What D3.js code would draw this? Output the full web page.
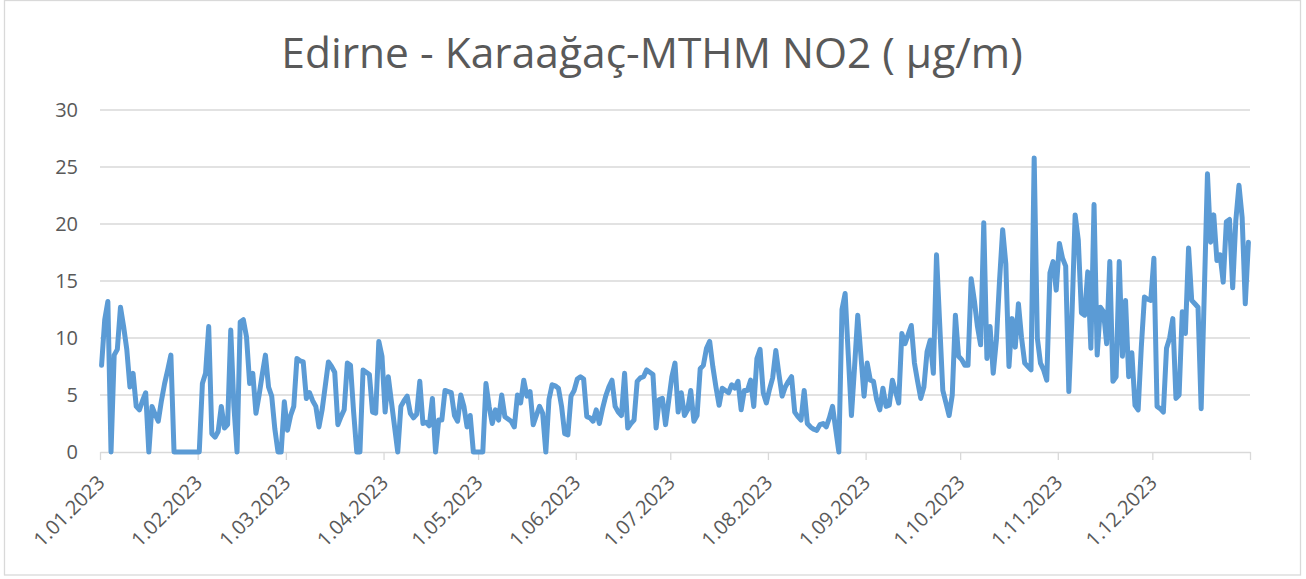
<!DOCTYPE html>
<html>
<head>
<meta charset="utf-8">
<script src="https://d3js.org/d3.v7.min.js"></script>
<style>
    body { margin: 0; background: #fff; }
    text { font-family: "Open Sans", "Liberation Sans", sans-serif; }
</style>
</head>
<body>
<div id="chart"></div>
<script>
// daily NO2 values, one array per month
var jan = [7.6, 11.6, 13.2, 0, 8.5, 9.0, 12.7, 11.0, 9.0, 5.7, 6.9, 4.0, 3.7, 4.5, 5.2, 0, 4.0, 3.3, 2.7, 4.5,
    6.0, 7.2, 8.5, 0, 0, 0, 0, 0, 0, 0, 0];
var feb = [0, 6.0, 6.9, 11.0, 1.6, 1.3, 1.8, 4.0, 2.1, 2.4, 10.7, 4.0, 0, 11.4, 11.6, 10.1, 6.0, 6.9, 3.4, 5.0,
    6.8, 8.5, 5.7, 4.9, 2.0, 0, 0, 4.4];
var mar = [1.9, 3.2, 4.0, 8.2, 8.0, 7.9, 4.7, 5.2, 4.5, 4.0, 2.2, 3.7, 5.8, 7.9, 7.5, 7.0, 2.4, 3.1, 3.7, 7.8,
    7.6, 3.5, 0, 0, 7.2, 7.0, 6.8, 3.5, 3.4, 9.7, 8.4];
var apr = [3.5, 6.6, 4.4, 2.2, 0, 4.0, 4.5, 4.9, 3.4, 3.0, 3.3, 6.2, 2.5, 2.6, 2.3, 4.7, 0, 2.8, 2.8, 5.4,
    5.3, 5.2, 3.2, 2.7, 5.0, 4.0, 2.2, 3.2, 0, 0];
var may = [0, 0, 6.0, 4.0, 2.5, 3.7, 2.8, 5.0, 3.1, 2.9, 2.7, 2.2, 5.0, 4.3, 6.3, 4.9, 5.3, 2.4, 3.2, 4.0,
    3.4, 0, 4.6, 5.9, 5.8, 5.6, 4.0, 1.6, 1.5, 4.9, 5.4];
var jun = [6.4, 6.6, 6.4, 3.1, 3.0, 2.7, 3.7, 2.5, 3.8, 4.9, 5.7, 6.3, 4.0, 3.5, 3.2, 6.9, 2.1, 2.5, 2.8, 6.2,
    6.5, 6.6, 7.2, 7.0, 6.8, 2.1, 4.6, 4.7, 2.4, 4.5];
var jul = [6.6, 7.8, 3.5, 5.2, 3.2, 3.7, 5.4, 2.7, 3.2, 7.3, 7.6, 9.1, 9.7, 7.5, 5.7, 4.1, 5.6, 5.4, 5.2, 5.9,
    5.6, 6.2, 3.7, 5.4, 5.4, 6.3, 4.0, 8.2, 9.0, 5.2, 4.3];
var aug = [5.5, 6.5, 8.9, 6.8, 4.9, 5.7, 6.2, 6.6, 3.5, 3.1, 2.8, 5.4, 2.5, 2.2, 2.0, 1.9, 2.4, 2.5, 2.2, 3.0,
    4.0, 2.0, 0, 12.5, 13.9, 8.5, 3.2, 7.5, 12.0, 8.5, 4.9];
var sep = [7.8, 6.3, 6.2, 4.6, 3.7, 5.6, 4.0, 4.1, 6.3, 5.3, 4.3, 10.4, 9.5, 10.3, 11.1, 7.8, 6.2, 4.7, 5.7, 8.8,
    9.8, 6.9, 17.3, 11.3, 5.4, 4.3, 3.2, 5.0, 12.0, 8.4];
var oct = [8.1, 7.6, 7.6, 15.2, 13.3, 11.0, 9.4, 20.1, 8.2, 11.0, 6.9, 9.8, 15.0, 19.5, 16.5, 7.5, 11.7, 9.2, 13.0, 10.0,
    7.8, 7.5, 7.2, 25.8, 10.0, 7.8, 7.2, 6.3, 15.7, 16.7, 14.2];
var nov = [18.3, 17.0, 16.3, 5.3, 12.0, 20.8, 18.6, 12.2, 12.0, 15.8, 9.1, 21.7, 8.5, 12.7, 12.3, 9.5, 16.7, 6.2, 6.6, 16.7,
    8.4, 13.3, 6.6, 8.7, 4.1, 3.7, 9.2, 13.6, 13.4, 13.3];
var dec = [17.0, 4.0, 3.8, 3.5, 9.1, 10.0, 11.7, 4.7, 5.0, 12.3, 10.4, 17.9, 13.3, 13.0, 12.7, 3.8, 14.0, 24.4, 18.4, 20.8,
    16.8, 17.3, 14.9, 20.2, 20.4, 14.4, 20.3, 23.4, 20.6, 13.0, 18.4];

var yTicks = [0, 5, 10, 15, 20, 25, 30];
var title = "Edirne - Karaağaç-MTHM NO2 ( µg/m)";

var values = [].concat(jan, feb, mar, apr, may, jun, jul, aug, sep, oct, nov, dec);
var start = new Date(2023, 0, 1),
    end = new Date(2024, 0, 1);

var data = values.map(function (v, i) {
    // points sit in the middle of their day
    return {date: d3.timeHour.offset(d3.timeDay.offset(start, i), 12), value: v};
});

var width = 1306,
    height = 579;

var svg = d3.select("#chart").append("svg")
    .attr("width", width)
    .attr("height", height);

svg.append("rect")
    .attr("x", 4.5).attr("y", 0.5)
    .attr("width", 1296).attr("height", 574.5)
    .attr("fill", "#fff")
    .attr("stroke", "#d9d9d9")
    .attr("stroke-width", 1.3);

var x = d3.scaleTime().domain([start, end]).range([100, 1250]);
var y = d3.scaleLinear().domain([0, 30]).range([452, 110]);

// gridlines
svg.append("g").selectAll("line")
    .data(yTicks.filter(function (d) { return d > 0; }))
    .enter().append("line")
    .attr("x1", x.range()[0]).attr("x2", x.range()[1])
    .attr("y1", function (d) { return y(d); })
    .attr("y2", function (d) { return y(d); })
    .attr("stroke", "#d9d9d9")
    .attr("stroke-width", 1.3);

// y labels
svg.append("g").selectAll("text")
    .data(yTicks)
    .enter().append("text")
    .attr("x", 78)
    .attr("y", function (d) { return y(d); })
    .attr("dy", "0.36em")
    .attr("text-anchor", "end")
    .attr("fill", "#595959")
    .style("font-size", "20px")
    .text(function (d) { return d; });

// x axis
var months = d3.timeMonth.range(start, d3.timeDay.offset(end, 1));
var fmt = d3.timeFormat("%-d.%m.%Y");

var xAxis = svg.append("g")
    .attr("transform", "translate(0," + y(0) + ")")
    .call(d3.axisBottom(x).tickValues(months).tickSize(8).tickSizeOuter(0).tickFormat(""));

xAxis.select(".domain").attr("stroke", "#d9d9d9").attr("stroke-width", 1.3);
xAxis.selectAll(".tick line").attr("stroke", "#d9d9d9").attr("stroke-width", 1.3);

svg.append("g").selectAll("text")
    .data(months.slice(0, 12))
    .enter().append("text")
    .attr("transform", function (d) {
        return "translate(" + (x(d) + 6) + "," + (y(0) + 32) + ") rotate(-45)";
    })
    .attr("text-anchor", "end")
    .attr("fill", "#595959")
    .style("font-size", "20px")
    .text(fmt);

// series
var line = d3.line()
    .x(function (d) { return x(d.date); })
    .y(function (d) { return y(d.value); });

svg.append("path")
    .datum(data)
    .attr("d", line)
    .attr("fill", "none")
    .attr("stroke", "#5b9bd5")
    .attr("stroke-width", 5)
    .attr("stroke-linejoin", "round")
    .attr("stroke-linecap", "round");

svg.append("text")
    .attr("x", 652)
    .attr("y", 68)
    .attr("text-anchor", "middle")
    .attr("fill", "#595959")
    .style("font-size", "42.5px")
    .text(title);
</script>
</body>
</html>
